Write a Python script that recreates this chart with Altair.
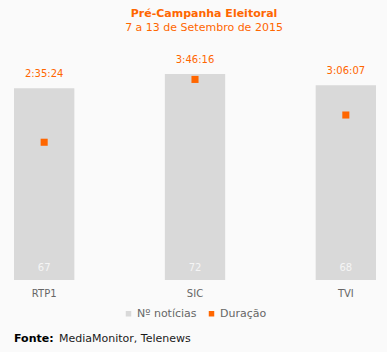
import altair as alt
import pandas as pd

# Data
canais = ["RTP1", "SIC", "TVI"]
noticias = [67, 72, 68]
duracao = ["2:35:24", "3:46:16", "3:06:07"]


def to_seconds(s):
    h, m, sec = (int(p) for p in s.split(":"))
    return h * 3600 + m * 60 + sec


df = pd.DataFrame({
    "canal": canais,
    "noticias": noticias,
    "duracao": duracao,
    "segundos": [to_seconds(d) for d in duracao],
    "s_bar": ["Nº notícias"] * 3,
    "s_pt": ["Duração"] * 3,
})

FONT = "DejaVu Sans"
ORANGE = "#ff6600"
GRAY = "#d9d9d9"

color_scale = alt.Scale(domain=["Nº notícias", "Duração"], range=[GRAY, ORANGE])
legend = alt.Legend(
    title=None, orient="none", direction="horizontal", legendX=109, legendY=257,
    symbolType="square", symbolSize=30, symbolStrokeWidth=0, labelFontSize=11,
    labelColor="#666666", labelFont=FONT, columnPadding=9, labelOffset=3,
)

x = alt.X(
    "canal:N", sort=canais, title=None,
    scale=alt.Scale(paddingInner=0.6, paddingOuter=0),
    axis=alt.Axis(domain=False, ticks=False, labelAngle=0, labelFontSize=10,
                  labelColor="#666666", labelFont=FONT, labelPadding=8),
)

base = alt.Chart(df)

y_bar = alt.Y("noticias:Q", scale=alt.Scale(domain=[0, 80], nice=False), axis=None)

bars = base.mark_bar(color=GRAY).encode(
    x=x, y=y_bar,
    color=alt.Color("s_bar:N", scale=color_scale, legend=legend),
)

bar_labels = base.mark_text(color="#f5f5f5", fontSize=10, font=FONT, baseline="middle").encode(
    x=x, y=alt.value(217), text="noticias:Q",
)

dur_labels = base.mark_text(color=ORANGE, fontSize=10, font=FONT, baseline="middle", dy=-14).encode(
    x=x, y=y_bar, text="duracao:N",
)

bar_layer = alt.layer(bars, bar_labels, dur_labels)

points = base.mark_point(shape="square", filled=True, size=50, opacity=1).encode(
    x=x,
    y=alt.Y("segundos:Q", scale=alt.Scale(domain=[0, 15500], nice=False), axis=None),
    color=alt.Color("s_pt:N", scale=color_scale, legend=legend),
)

footer_df = pd.DataFrame({"a": ["Fonte:"], "b": ["MediaMonitor, Telenews"]})
footer1 = alt.Chart(footer_df).mark_text(
    align="left", baseline="middle", fontSize=11, font=FONT, fontWeight="bold", color="#000000"
).encode(x=alt.value(0), y=alt.value(288), text="a:N")
footer2 = alt.Chart(footer_df).mark_text(
    align="left", baseline="middle", fontSize=11, font=FONT, color="#1a1a1a"
).encode(x=alt.value(45), y=alt.value(288), text="b:N")

chart = alt.layer(bar_layer, points, footer1, footer2).resolve_scale(
    y="independent"
).properties(
    width=362,
    height=229,
    autosize=alt.AutoSizeParams(type="none"),
    padding={"left": 14, "top": 51, "right": 11, "bottom": 72},
    background="#fafafa",
    title=alt.TitleParams(
        text="Pré-Campanha Eleitoral",
        subtitle="7 a 13 de Setembro de 2015",
        anchor="middle", frame="group", dx=9, offset=18,
        font=FONT, fontSize=11, fontWeight="bold", color=ORANGE,
        subtitleFont=FONT, subtitleFontSize=11, subtitleColor=ORANGE, subtitlePadding=3,
    ),
).configure_view(stroke=None)

chart.save("out.html", embed_options={"renderer": "svg", "actions": False})
